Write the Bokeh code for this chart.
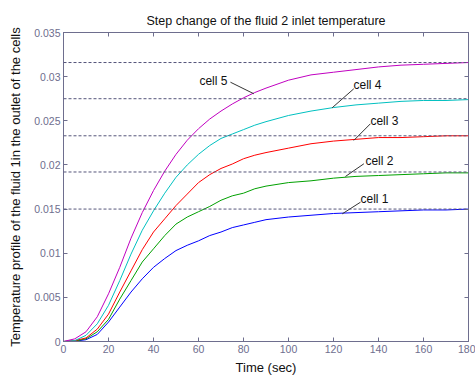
from bokeh.plotting import figure
from bokeh.models import Range1d, LinearAxis, FixedTicker, CustomJSTickFormatter, Span, ColumnDataSource
from bokeh.embed import file_html
from bokeh.resources import INLINE
from bokeh.core.properties import value

# ---- data ----
time = [0, 5, 10, 15, 20, 25, 30, 35, 40, 45, 50, 55, 60, 65, 70, 75, 80, 85, 90,
        100, 110, 120, 130, 140, 150, 160, 170, 180]
cell1 = [0, 0.00003, 0.0002, 0.0008, 0.0022, 0.0039, 0.0056, 0.0071, 0.0084, 0.0094, 0.0103,
         0.0109, 0.0114, 0.0120, 0.0124, 0.0129, 0.0132, 0.0135, 0.0138,
         0.0141, 0.0143, 0.0145, 0.0146, 0.0147, 0.0148, 0.0149, 0.0149, 0.0150]
cell2 = [0, 0.00005, 0.0003, 0.0011, 0.0025, 0.0048, 0.0069, 0.0090, 0.0105, 0.0120, 0.0133,
         0.0141, 0.0147, 0.0153, 0.0160, 0.0165, 0.0168, 0.0173, 0.0176,
         0.0180, 0.0182, 0.0185, 0.0187, 0.0188, 0.0189, 0.0190, 0.0191, 0.0191]
cell3 = [0, 0.0001, 0.0004, 0.0014, 0.0031, 0.0056, 0.0080, 0.0104, 0.0124, 0.0139, 0.0154,
         0.0167, 0.0180, 0.0189, 0.0196, 0.0201, 0.0207, 0.0211, 0.0214,
         0.0219, 0.0224, 0.0227, 0.0229, 0.0231, 0.0231, 0.0232, 0.0233, 0.0233]
cell4 = [0, 0.0001, 0.0007, 0.0020, 0.0041, 0.0069, 0.0099, 0.0126, 0.0148, 0.0168, 0.0186,
         0.0200, 0.0212, 0.0222, 0.0230, 0.0235, 0.0240, 0.0245, 0.0249,
         0.0256, 0.0261, 0.0265, 0.0268, 0.0270, 0.0272, 0.0273, 0.0273, 0.0274]
cell5 = [0, 0.0003, 0.0011, 0.0028, 0.0054, 0.0084, 0.0117, 0.0146, 0.0171, 0.0193, 0.0212,
         0.0228, 0.0241, 0.0252, 0.0261, 0.0269, 0.0276, 0.0282, 0.0287,
         0.0296, 0.0302, 0.0305, 0.0308, 0.0311, 0.0313, 0.0314, 0.0315, 0.0316]
steady_state = [0.0150, 0.0192, 0.0233, 0.0275, 0.0316]

x_ticks = [0, 20, 40, 60, 80, 100, 120, 140, 160, 180]
y_ticks = [0, 0.005, 0.01, 0.015, 0.02, 0.025, 0.03, 0.035]

label_names = ["cell 1", "cell 2", "cell 3", "cell 4", "cell 5"]
label_t = [132.0, 134.2, 136.4, 128.9, 60.4]
label_v = [0.01616, 0.02050, 0.02503, 0.02911, 0.02956]
leader_t0 = [132.0, 133.5, 136.4, 129.0, 74.2]
leader_v0 = [0.01578, 0.02013, 0.02466, 0.02862, 0.02937]
leader_t1 = [123.9, 125.3, 129.0, 119.4, 84.6]
leader_v1 = [0.01446, 0.01869, 0.02277, 0.02647, 0.02806]

series = [cell1, cell2, cell3, cell4, cell5]
colors = ["#0000ff", "#00a000", "#ff0000", "#00c0c0", "#c000c0"]

AX = "#6e6e8e"
FONT = "Liberation Sans"

p = figure(width=475, height=378, output_backend="svg", toolbar_location=None,
           x_range=Range1d(0, 180), y_range=Range1d(0, 0.035),
           min_border_left=63, min_border_right=7, min_border_top=32, min_border_bottom=37,
           x_axis_label="Time (sec)",
           y_axis_label="Temperature profile of the fluid 1in the outlet of the cells")
p.title.text = "Step change of the fluid 2 inlet temperature"
p.title.align = "center"
p.title.text_font = FONT
p.title.text_font_size = "12.5px"
p.title.text_font_style = "normal"
p.title.text_color = "#111111"
p.title.offset = 0
p.xgrid.visible = False
p.ygrid.visible = False
p.outline_line_color = AX
p.background_fill_color = "white"
p.border_fill_color = "white"

def style_axis(ax, ticks):
    ax.ticker = FixedTicker(ticks=ticks)
    ax.axis_line_color = AX
    ax.major_tick_line_color = AX
    ax.major_tick_in = 4
    ax.major_tick_out = 0
    ax.minor_tick_line_color = None
    ax.major_label_text_font = FONT
    ax.major_label_text_color = AX
    ax.major_label_text_font_size = "10.5px"
    ax.major_label_standoff = 3
    ax.axis_label_text_font = FONT
    ax.axis_label_text_font_style = "normal"
    ax.axis_label_text_color = "#111111"
    ax.axis_label_text_font_size = "13px"

style_axis(p.xaxis[0], x_ticks)
style_axis(p.yaxis[0], y_ticks)
p.yaxis[0].formatter = CustomJSTickFormatter(
    code="return tick.toFixed(3).replace(/0+$/, '').replace(/\\.$/, '');")
p.xaxis[0].axis_label_standoff = 4
p.yaxis[0].axis_label_standoff = 8

# tick-only axes on top and right (MATLAB box style)
for loc, ticks in (("above", x_ticks), ("right", y_ticks)):
    ax = LinearAxis()
    style_axis(ax, ticks)
    ax.major_label_standoff = 0
    ax.formatter = CustomJSTickFormatter(code="return '';")
    p.add_layout(ax, loc)

for s in steady_state:
    p.add_layout(Span(location=s, dimension="width", line_color="#55557a",
                      line_dash="3 2", line_width=1))

for vals, c in zip(series, colors):
    p.line(time, vals, line_color=c, line_width=1)

p.segment(x0=leader_t0, y0=leader_v0, x1=leader_t1, y1=leader_v1,
          line_color="#333333", line_width=1)
src = ColumnDataSource(dict(x=label_t, y=label_v, t=label_names))
p.text(x="x", y="y", text="t", source=src, text_font=value(FONT),
       text_font_size="12px", text_align="left", text_baseline="middle",
       text_color="#111111")

open("out.html", "w").write(file_html(p, INLINE))
